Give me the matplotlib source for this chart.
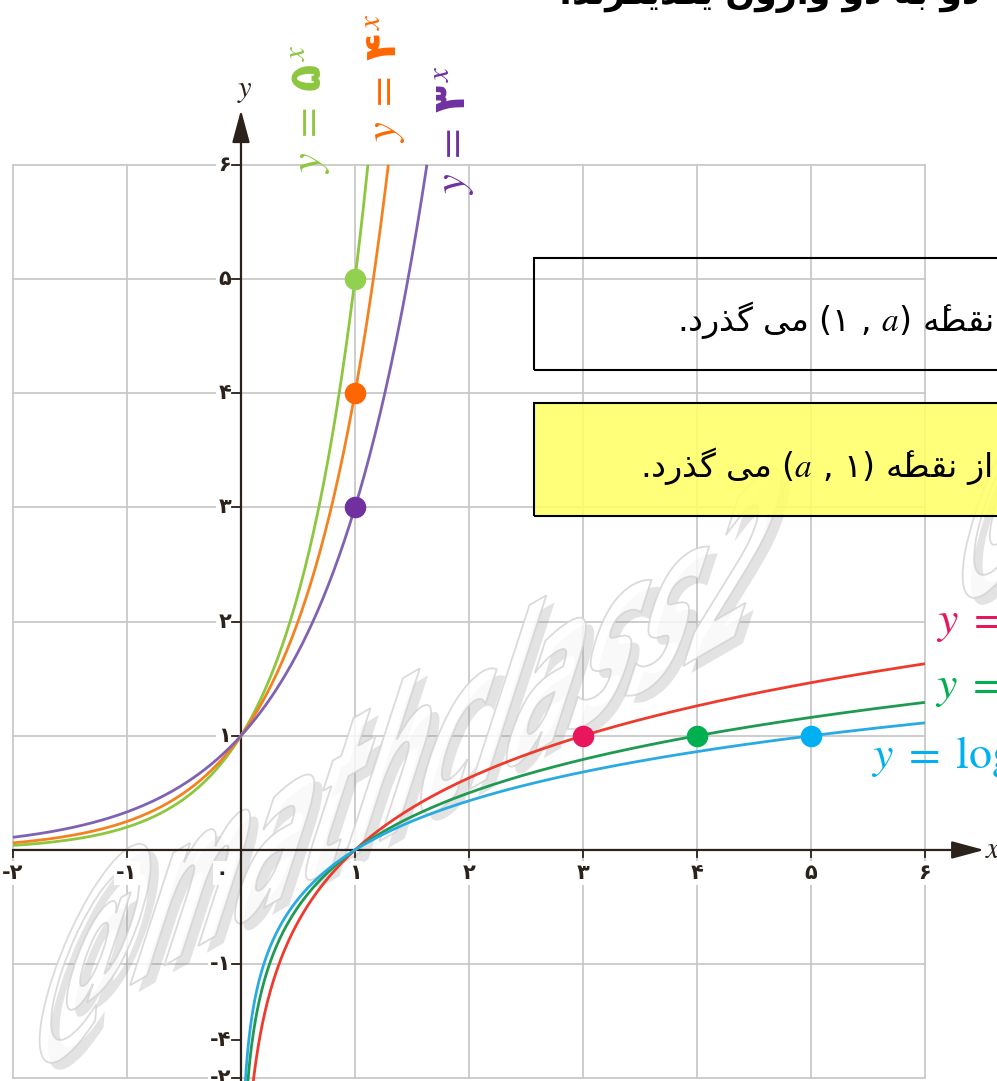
import numpy as np
import matplotlib
matplotlib.use('Agg')
import matplotlib.pyplot as plt
import matplotlib.patheffects as pe
import matplotlib.transforms as mtransforms
from matplotlib.font_manager import FontProperties
from matplotlib.patches import PathPatch, Rectangle
from matplotlib.textpath import TextPath

plt.rcParams['font.family'] = 'DejaVu Sans'
plt.rcParams['mathtext.fontset'] = 'custom'
plt.rcParams['mathtext.rm'] = 'STIXGeneral'
plt.rcParams['mathtext.it'] = 'STIXGeneral:italic'
plt.rcParams['mathtext.bf'] = 'STIXGeneral:bold'
plt.rcParams['mathtext.sf'] = 'DejaVu Sans:bold'

# curves y = a^x and y = log_a(x)
exp_bases = [5, 4, 3]
exp_digits = ['۵', '۴', '۳']
exp_line_colors = ['#8dc63f', '#f58220', '#8062b3']
exp_dot_colors = ['#92d050', '#ff6600', '#7030a0']
exp_label_colors = ['#8dc63f', '#ff6600', '#7030a0']

log_bases = [3, 4, 5]
log_digits = ['۳', '۴', '۵']
log_line_colors = ['#ee3b2e', '#1f9a52', '#29abe2']
log_dot_colors = ['#e8175d', '#00b050', '#00b0f0']

x_ticks = [-2, -1, 0, 1, 2, 3, 4, 5, 6]
x_tick_labels = ['-۲', '-۱', '۰', '۱', '۲', '۳', '۴', '۵', '۶']
y_ticks = [-2, -1.665, -1, 1, 2, 3, 4, 5, 6]
y_tick_labels = ['-۲', '-۴', '-۱', '۱', '۲', '۳', '۴', '۵', '۶']
grid_vals = list(range(-2, 7))

box_line = 'از نقطۀ'
box_tail = 'می گذرد.'
top_line = 'دو به دو وارون یکدیگرند.'

# presentation forms: isolated, final, initial, medial
FORMS = {
    'ا': ('\ufe8d', '\ufe8e', None, None),
    'ب': ('\ufe8f', '\ufe90', '\ufe91', '\ufe92'),
    'د': ('\ufea9', '\ufeaa', None, None),
    'ذ': ('\ufeab', '\ufeac', None, None),
    'ر': ('\ufead', '\ufeae', None, None),
    'ز': ('\ufeaf', '\ufeb0', None, None),
    'ط': ('\ufec1', '\ufec2', '\ufec3', '\ufec4'),
    'ق': ('\ufed5', '\ufed6', '\ufed7', '\ufed8'),
    'م': ('\ufee1', '\ufee2', '\ufee3', '\ufee4'),
    'ن': ('\ufee5', '\ufee6', '\ufee7', '\ufee8'),
    'ه': ('\ufee9', '\ufeea', '\ufeeb', '\ufeec'),
    'ۀ': ('\ufee9\u0654', '\ufeea\u0654', None, None),
    'و': ('\ufeed', '\ufeee', None, None),
    'ک': ('\ufb8e', '\ufb8f', '\ufb90', '\ufb91'),
    'گ': ('\ufb92', '\ufb93', '\ufb94', '\ufb95'),
    'ی': ('\ufbfc', '\ufbfd', '\ufbfe', '\ufbff'),
}


def fa(text):
    """Join Persian letters and return them in visual (left-to-right) order."""
    out = []
    for i, ch in enumerate(text):
        if ch not in FORMS:
            out.append(ch)
            continue
        iso, fin, ini, med = FORMS[ch]
        prev = text[i - 1] if i > 0 else ''
        nxt = text[i + 1] if i + 1 < len(text) else ''
        join_prev = prev in FORMS and FORMS[prev][2] is not None
        join_next = nxt in FORMS and ini is not None
        if join_prev and join_next:
            out.append(med)
        elif join_prev:
            out.append(fin)
        elif join_next:
            out.append(ini)
        else:
            out.append(iso)
    return ''.join(reversed(out))


fig = plt.figure(figsize=(9.97, 10.81), dpi=100)
ax = fig.add_axes([0, 0, 1, 1])
ax.set_xlim(-2.114, 6.632)
ax.set_ylim(-2.023, 7.443)
ax.axis('off')

grid_c = '#c9c9c9'
axis_c = '#2b221b'
for v in grid_vals:
    ax.plot([v, v], [-2, 6], color=grid_c, lw=1.3, zorder=1)
    ax.plot([-2, 6], [v, v], color=grid_c, lw=1.3, zorder=1)

# axes with arrow heads
ax.annotate('', xy=(6.52, 0), xytext=(-2, 0),
            arrowprops=dict(arrowstyle='-|>,head_length=1.0,head_width=0.27',
                            color=axis_c, lw=1.6, mutation_scale=20,
                            shrinkA=0, shrinkB=0), zorder=6)
ax.annotate('', xy=(0, 6.48), xytext=(0, -2.03),
            arrowprops=dict(arrowstyle='-|>,head_length=1.0,head_width=0.27',
                            color=axis_c, lw=1.6, mutation_scale=20,
                            shrinkA=0, shrinkB=0), zorder=6)
ax.text(6.53, 0.0, '$x$', fontsize=22, color=axis_c, ha='left', va='center')
ax.text(0.03, 6.65, '$y$', fontsize=22, color=axis_c, ha='center', va='center')

lab_bbox = dict(fc='white', ec='none', pad=1.5)
for v, lab in zip(x_ticks, x_tick_labels):
    ax.plot([v, v], [0, -0.06], color=axis_c, lw=1.3, zorder=6)
    xpos = -0.17 if v == 0 else v
    ax.text(xpos, -0.2, lab, fontsize=15, fontweight='bold', color=axis_c,
            ha='center', va='center', bbox=lab_bbox, zorder=4)
for v, lab in zip(y_ticks, y_tick_labels):
    ax.plot([-0.08, 0], [v, v], color=axis_c, lw=1.3, zorder=6)
    ax.text(-0.085, v, lab, fontsize=15, fontweight='bold', color=axis_c,
            ha='right', va='center', bbox=lab_bbox, zorder=4)

# exponential curves
for b, lc in zip(exp_bases, exp_line_colors):
    xs = np.linspace(-2, np.log(6) / np.log(b), 400)
    ax.plot(xs, b ** xs, color=lc, lw=2.0, zorder=7, solid_capstyle='butt')
# logarithmic curves
for b, lc in zip(log_bases, log_line_colors):
    xs = np.geomspace(b ** -2.05, 6, 600)
    ax.plot(xs, np.log(xs) / np.log(b), color=lc, lw=2.0, zorder=7,
            solid_capstyle='butt')

for b, dc in zip(exp_bases, exp_dot_colors):
    ax.plot(1, b, 'o', ms=14.5, color=dc, zorder=8)
for b, dc in zip(log_bases, log_dot_colors):
    ax.plot(b, 1, 'o', ms=14.5, color=dc, zorder=8)

# rotated curve names
exp_label_pos = [(0.61, 6.49), (1.27, 6.76), (1.87, 6.30)]
for d, c, (lx, ly) in zip(exp_digits, exp_label_colors, exp_label_pos):
    ax.text(lx, ly, r'$y\;=\;\mathsf{%s}^{\,x}$' % d, fontsize=32, color=c,
            rotation=90, ha='center', va='center', zorder=9)

log_label_pos = [(6.096, 1.90), (6.088, 1.331), (5.526, 0.718)]
for d, c, (lx, ly) in zip(log_digits, log_dot_colors, log_label_pos):
    ax.text(lx, ly, r'$y\;=\;\log_{\mathsf{%s}}\, x$' % d, fontsize=33, color=c,
            ha='left', va='baseline', zorder=9)

# note boxes
fig.add_artist(Rectangle((0.5356, 0.6577), 0.6, 0.1036, transform=fig.transFigure,
                         fc='none', ec='black', lw=1.5, zorder=4))
fig.add_artist(Rectangle((0.5356, 0.5227), 0.6, 0.1045, transform=fig.transFigure,
                         fc='#ffff66', ec='none', alpha=0.88, zorder=4))
fig.add_artist(Rectangle((0.5356, 0.5227), 0.6, 0.1045, transform=fig.transFigure,
                         fc='none', ec='black', lw=1.5, zorder=4))
fig.text(677 / 997, 1 - 320 / 1081, fa(box_tail) + ' (۱ , $a$) ' + fa(box_line),
         fontsize=24, ha='left', va='center', zorder=5)
fig.text(640 / 997, 1 - 466 / 1081, fa(box_tail) + ' ($a$ , ۱) ' + fa(box_line),
         fontsize=24, ha='left', va='center', zorder=5)
fig.text(980 / 997, 1 - 4 / 1081, fa(top_line), fontsize=25, fontweight='bold',
         ha='right', va='baseline')

# watermark
tp = TextPath((0, 0), '@mathclass2', size=100,
              prop=FontProperties(family='DejaVu Sans', weight='bold'))
a1, a2 = np.radians(30), np.radians(72)
sx, sy = 1.12, 2.55
for ox, oy in [(25, 35), (948, 500)]:
    m = np.array([[sx * np.cos(a1), sy * np.cos(a2), ox],
                  [sx * np.sin(a1), sy * np.sin(a2), oy],
                  [0, 0, 1]])
    wm = PathPatch(tp, transform=mtransforms.Affine2D(m), fc='white', ec='#d2d2d2',
                   lw=1.3, alpha=0.8, zorder=2.5)
    wm.set_path_effects([pe.SimplePatchShadow(offset=(6, -5), shadow_rgbFace='#909090',
                                              alpha=0.25), pe.Normal()])
    ax.add_artist(wm)

fig.savefig('out.png', dpi=100)
